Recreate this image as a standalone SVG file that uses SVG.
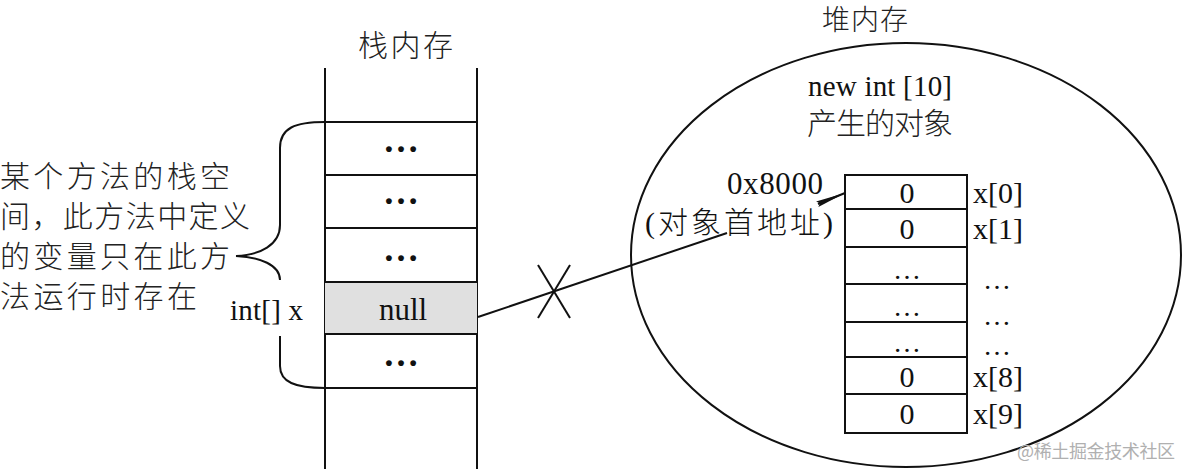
<svg xmlns="http://www.w3.org/2000/svg" width="1182" height="469" viewBox="0 0 1182 469">
<style>
.t{font-family:"Liberation Serif","Noto Sans CJK SC",serif;fill:#111}
.c{font-family:"Noto Sans CJK SC","Liberation Serif",serif;fill:#222;font-weight:300}
.ln{stroke:#111;stroke-width:2;fill:none}
.cell{stroke:#111;stroke-width:2;fill:#fff}
.dots{font-family:"Liberation Serif",serif;font-size:36px;fill:#111;text-anchor:middle;font-weight:bold}
.sdots{font-family:"Liberation Serif",serif;font-size:28px;fill:#111;text-anchor:middle}
.mid{text-anchor:middle}
</style>
<defs>
<marker id="arr2" viewBox="0 0 30 12" refX="30" refY="6" markerWidth="30" markerHeight="12" orient="auto" markerUnits="userSpaceOnUse">
<path d="M0,3 L30,6 L0,9 L3,6 Z" fill="#111"/>
</marker>
</defs>
<rect width="1182" height="469" fill="#fff"/>

<g id="stack">
<text class="c" x="358" y="56" font-size="30" textLength="95">栈内存</text>
<line class="ln" x1="325" y1="68" x2="325" y2="469"/>
<line class="ln" x1="477" y1="68" x2="477" y2="469"/>
<rect x="325" y="282" width="152" height="52" fill="#e0e0e0"/>
<line class="ln" x1="325" y1="122" x2="477" y2="122"/>
<line class="ln" x1="325" y1="175" x2="477" y2="175"/>
<line class="ln" x1="325" y1="228" x2="477" y2="228"/>
<line class="ln" x1="325" y1="282" x2="477" y2="282"/>
<line class="ln" x1="325" y1="334" x2="477" y2="334"/>
<line class="ln" x1="325" y1="388" x2="477" y2="388"/>
<text class="dots" x="401" y="152">…</text>
<text class="dots" x="401" y="204">…</text>
<text class="dots" x="401" y="261">…</text>
<text class="t mid" x="403" y="320" font-size="31">null</text>
<text class="dots" x="401" y="366">…</text>
</g>

<g id="brace">
<path class="ln" d="M325,122 C295,122 280,128 280,148 L280,225 C280,245 260,255 236,256 C260,257 280,265 280,280"/>
<path class="ln" d="M280,336 L280,366 C280,382 295,388 325,388"/>
</g>

<g id="note">
<text class="c" x="0" y="187" font-size="30" textLength="230">某个方法的栈空</text>
<text class="c" x="0" y="227" font-size="30" textLength="250">间，此方法中定义</text>
<text class="c" x="0" y="267" font-size="30" textLength="230">的变量只在此方</text>
<text class="c" x="0" y="307" font-size="30" textLength="197">法运行时存在</text>
<text class="t" x="230" y="320" font-size="29" textLength="73">int[] x</text>
</g>

<g id="heap">
<text class="c" x="822" y="30" font-size="28" textLength="86">堆内存</text>
<ellipse cx="906" cy="255" rx="275" ry="212" class="ln"/>
<text class="t" x="808" y="96" font-size="29" textLength="144">new int [10]</text>
<text class="c" x="807" y="134" font-size="30" textLength="146">产生的对象</text>
<text class="t" x="727" y="194" font-size="31" textLength="96">0x8000</text>
<text class="t" x="645" y="233" font-size="30" font-weight="300" textLength="188">(对象首地址)</text>
</g>

<g id="array">
<rect class="cell" x="845" y="175" width="122" height="258"/>
<line class="ln" x1="845" y1="209" x2="967" y2="209"/>
<line class="ln" x1="845" y1="247" x2="967" y2="247"/>
<line class="ln" x1="845" y1="284" x2="967" y2="284"/>
<line class="ln" x1="845" y1="322" x2="967" y2="322"/>
<line class="ln" x1="845" y1="357" x2="967" y2="357"/>
<line class="ln" x1="845" y1="394" x2="967" y2="394"/>
<text class="t mid" x="907" y="203" font-size="30">0</text>
<text class="t mid" x="907" y="239" font-size="30">0</text>
<text class="sdots" x="907" y="279">…</text>
<text class="sdots" x="907" y="316">…</text>
<text class="sdots" x="907" y="352">…</text>
<text class="t mid" x="907" y="387" font-size="30">0</text>
<text class="t mid" x="907" y="424" font-size="30">0</text>
<text class="t" x="973" y="203" font-size="30">x[0]</text>
<text class="t" x="973" y="239" font-size="30">x[1]</text>
<text class="sdots" x="997" y="289">…</text>
<text class="sdots" x="997" y="325">…</text>
<text class="sdots" x="997" y="355">…</text>
<text class="t" x="973" y="387" font-size="30">x[8]</text>
<text class="t" x="973" y="424" font-size="30">x[9]</text>
</g>

<g id="connectors">
<line class="ln" x1="478" y1="317" x2="727" y2="233"/>
<line class="ln" x1="818" y1="204" x2="845" y2="193" marker-end="url(#arr2)"/>
<line class="ln" x1="538" y1="265" x2="570" y2="318"/>
<line class="ln" x1="570" y1="265" x2="538" y2="318"/>
</g>

<text x="1017" y="458" font-family="Noto Sans CJK SC,sans-serif" font-size="18" fill="#b0b0b0" textLength="158">@稀土掘金技术社区</text>
</svg>
